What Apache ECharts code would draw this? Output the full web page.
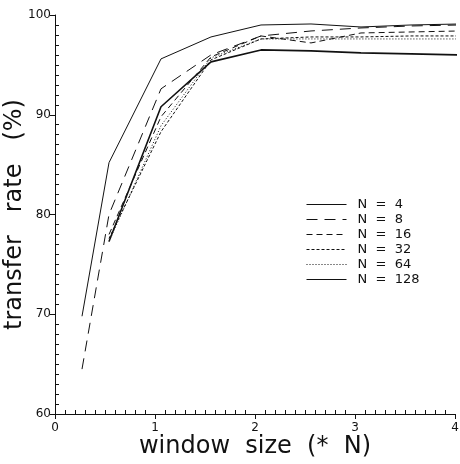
<!DOCTYPE html>
<html>
<head>
<meta charset="utf-8">
<script src="https://cdn.jsdelivr.net/npm/echarts@6.0.0/dist/echarts.min.js"></script>
<style>
  html, body { margin: 0; padding: 0; background: #fff; }
  #chart { width: 460px; height: 464px; }
</style>
</head>
<body>
<div id="chart"></div>
<script>
// window size (* N) where the points sit in the plot
const windowSize = [0.27, 0.54, 1.06, 1.56, 2.06, 2.56, 3.06, 3.56, 4.05]
// transfer rate (%) per N, null = no point
const rateN4   = [69.8, 85.2, 95.6, 97.8, 99.0, 99.1, 98.8, 99.0, 99.1]
const rateN8   = [64.5, 80.0, 92.6, 96.0, 97.9, 98.4, 98.7, 98.9, 99.0]
const rateN16  = [null, 78.0, 89.8, 95.8, 97.9, 97.2, 98.2, 98.3, 98.4]
const rateN32  = [null, 77.6, 88.3, 95.5, 97.6, 97.8, 97.8, 97.9, 97.9]
const rateN64  = [null, 77.3, 88.9, 95.7, 97.6, 97.6, 97.6, 97.6, 97.6]
const rateN128 = [null, 77.3, 90.8, 95.3, 96.5, 96.4, 96.2, 96.1, 96.0]

const seriesNames = ["N = 4", "N = 8", "N = 16", "N = 32", "N = 64", "N = 128"]
const seriesRates = [rateN4, rateN8, rateN16, rateN32, rateN64, rateN128]
const seriesDash = ["solid", [11, 7], [6, 4], [3, 2], [1, 2], "solid"]
const seriesWidth = [1, 1, 1, 1, 1, 1.6]

const xTicks = [0, 4, 1]     // min, max, interval
const yTicks = [60, 100, 10]

const ink = "#111"
const font = "DejaVu Sans"

const pairs = rates => windowSize.map((x, i) => [x, rates[i]])

const baseAxis = (range, extra) => Object.assign({
  type: "value",
  min: range[0],
  max: range[1],
  interval: range[2],
  splitLine: { show: false },
  axisLine: { onZero: false, lineStyle: { color: ink, width: 1 } }
}, extra)

const chart = echarts.init(document.getElementById("chart"), null, { renderer: "canvas" })

chart.setOption({
  backgroundColor: "#fff",
  animation: false,
  grid: { left: 55, right: 5, top: 15, bottom: 50, outerBoundsMode: "none" },
  legend: {
    orient: "vertical",
    left: 306,
    top: 198,
    padding: 0,
    itemWidth: 40,
    itemHeight: 13,
    itemGap: 2,
    itemStyle: { opacity: 0 },
    lineStyle: { width: 1 },
    textStyle: { color: ink, fontFamily: font, fontSize: 13, padding: [0, 0, 0, 6] },
    formatter: name => name.replace(/ /g, "  "),
    data: seriesNames
  },
  xAxis: [
    baseAxis(xTicks, {
      position: "bottom",
      name: "window  size  (*  N)",
      nameLocation: "middle",
      nameGap: 21,
      nameMoveOverlap: false,
      nameTextStyle: { color: ink, fontFamily: font, fontSize: 24 },
      axisTick: { show: true, inside: false, length: 5, lineStyle: { color: ink } },
      axisLabel: { color: ink, fontFamily: font, fontSize: 12, margin: 8 }
    }),
    baseAxis(xTicks, {
      position: "bottom",
      axisLine: { show: false, onZero: false },
      axisLabel: { show: false },
      axisTick: { show: false, inside: true },
      minorTick: { show: true, splitNumber: 10, length: 4, lineStyle: { color: ink } }
    })
  ],
  yAxis: [
    baseAxis(yTicks, {
      position: "left",
      name: "transfer   rate   (%)",
      nameLocation: "middle",
      nameGap: 28,
      nameMoveOverlap: false,
      nameTextStyle: { color: ink, fontFamily: font, fontSize: 24 },
      axisTick: { show: true, inside: false, length: 5, lineStyle: { color: ink } },
      axisLabel: { color: ink, fontFamily: font, fontSize: 12, margin: 4 }
    }),
    baseAxis(yTicks, {
      position: "left",
      axisLine: { show: false, onZero: false },
      axisLabel: { show: false },
      axisTick: { show: false, inside: true },
      minorTick: { show: true, splitNumber: 10, length: 4, lineStyle: { color: ink } }
    })
  ],
  series: seriesNames.map((name, i) => ({
    name,
    type: "line",
    xAxisIndex: 0,
    yAxisIndex: 0,
    symbol: "none",
    clip: true,
    color: ink,
    lineStyle: { color: ink, width: seriesWidth[i], type: seriesDash[i] },
    data: pairs(seriesRates[i])
  }))
})
</script>
</body>
</html>
